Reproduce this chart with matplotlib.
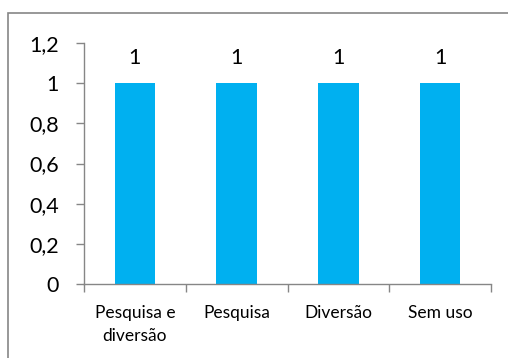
import matplotlib.pyplot as plt
from matplotlib.patches import Rectangle
import numpy as np

categorias = ["Pesquisa e\ndiversão", "Pesquisa", "Diversão", "Sem uso"]
valores = [1, 1, 1, 1]
yticks = [0, 0.2, 0.4, 0.6, 0.8, 1.0, 1.2]
ytick_labels = ["0", "0,2", "0,4", "0,6", "0,8", "1", "1,2"]

CINZA = "#868686"
AZUL = "#00B0F0"

plt.rcParams["font.family"] = ["Lato", "DejaVu Sans"]

fig = plt.figure(figsize=(5.08, 3.58), dpi=100)
ax = fig.add_axes([84 / 508, 1 - 284 / 358, (491 - 84) / 508, (284 - 43) / 358])

x = np.arange(len(categorias))
barras = ax.bar(x, valores, width=0.4, color=AZUL)
for b, v in zip(barras, valores):
    ax.text(b.get_x() + b.get_width() / 2, v + 0.125, f"{v:g}".replace(".", ","),
            ha="center", va="center", fontsize=15.5)

ax.set_xlim(-0.5, len(categorias) - 0.5)
ax.set_ylim(0, 1.2)
ax.set_yticks(yticks)
ax.set_yticklabels(ytick_labels, fontsize=15.5)
ax.tick_params(axis="y", length=6, width=1, color=CINZA, pad=12)

# categorias no centro, marcas de escala nas divisões
ax.set_xticks(x)
ax.set_xticklabels(categorias, fontsize=12.5, linespacing=1.55)
ax.tick_params(axis="x", which="major", length=0, pad=15)
ax.set_xticks(np.arange(-0.5, len(categorias)), minor=True)
ax.tick_params(axis="x", which="minor", length=6, width=1, color=CINZA)

for lado in ["top", "right"]:
    ax.spines[lado].set_visible(False)
for lado in ["left", "bottom"]:
    ax.spines[lado].set_color(CINZA)
    ax.spines[lado].set_linewidth(1)

# moldura do gráfico
fig.patches.append(Rectangle((8 / 508, -0.1), 1.2, 1 - 13 / 358 + 0.1,
                             transform=fig.transFigure, fill=False,
                             edgecolor=CINZA, linewidth=1.2))

fig.savefig("out.png", dpi=100)
